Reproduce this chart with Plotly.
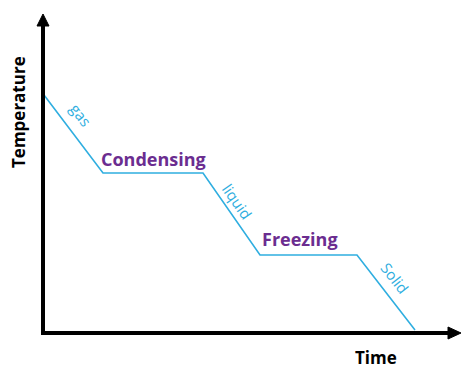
import plotly.graph_objects as go

# Cooling curve data (arbitrary units)
time = [0.1, 6.0, 16.0, 21.7, 31.4, 37.2]
temperature = [23.8, 16.0, 16.0, 7.8, 7.8, 0.3]

phase_labels = ["gas", "liquid", "Solid"]
phase_x = [3.8, 19.4, 35.2]
phase_y = [21.8, 13.2, 5.5]
phase_angle = [53, 55, 52]

change_labels = ["Condensing", "Freezing"]
change_x = [11.0, 25.7]
change_y = [17.4, 9.4]

CYAN = "#2FAEE0"
PURPLE = "#6B2D90"
FONT = "Open Sans"

fig = go.Figure()
fig.add_trace(go.Scatter(x=time, y=temperature, mode="lines",
                         line=dict(color=CYAN, width=1.6), hoverinfo="skip"))

for t, x, y, a in zip(phase_labels, phase_x, phase_y, phase_angle):
    fig.add_annotation(x=x, y=y, text=t, showarrow=False, textangle=a,
                       font=dict(family=FONT, size=15, color=CYAN))
for t, x, y in zip(change_labels, change_x, change_y):
    fig.add_annotation(x=x, y=y, text=f"<b>{t}</b>", showarrow=False,
                       font=dict(family=FONT, size=18, color=PURPLE))

fig.add_annotation(x=-2.5, y=22.1, text="<b>Temperature</b>", showarrow=False,
                   textangle=-90, font=dict(family=FONT, size=17, color="black"))
fig.add_annotation(x=33.3, y=-2.4, text="<b>Time</b>", showarrow=False,
                   font=dict(family=FONT, size=17, color="black"))

# axes with arrowheads
fig.add_shape(type="line", x0=0, y0=-0.2, x1=0, y1=31.0, line=dict(color="black", width=4))
fig.add_shape(type="line", x0=-0.2, y0=0, x1=40.6, y1=0, line=dict(color="black", width=4))
fig.add_shape(type="path", path="M -0.6 30.7 L 0.6 30.7 L 0 31.9 Z",
              fillcolor="black", line=dict(color="black", width=1))
fig.add_shape(type="path", path="M 40.5 0.6 L 40.5 -0.6 L 41.8 0 Z",
              fillcolor="black", line=dict(color="black", width=1))

fig.update_xaxes(range=[-4.3, 43.1], visible=False)
fig.update_yaxes(range=[-4.7, 33.3], visible=False)
fig.update_layout(width=474, height=380, margin=dict(l=0, r=0, t=0, b=0),
                  paper_bgcolor="white", plot_bgcolor="white", showlegend=False)

fig.write_html("out.html")
